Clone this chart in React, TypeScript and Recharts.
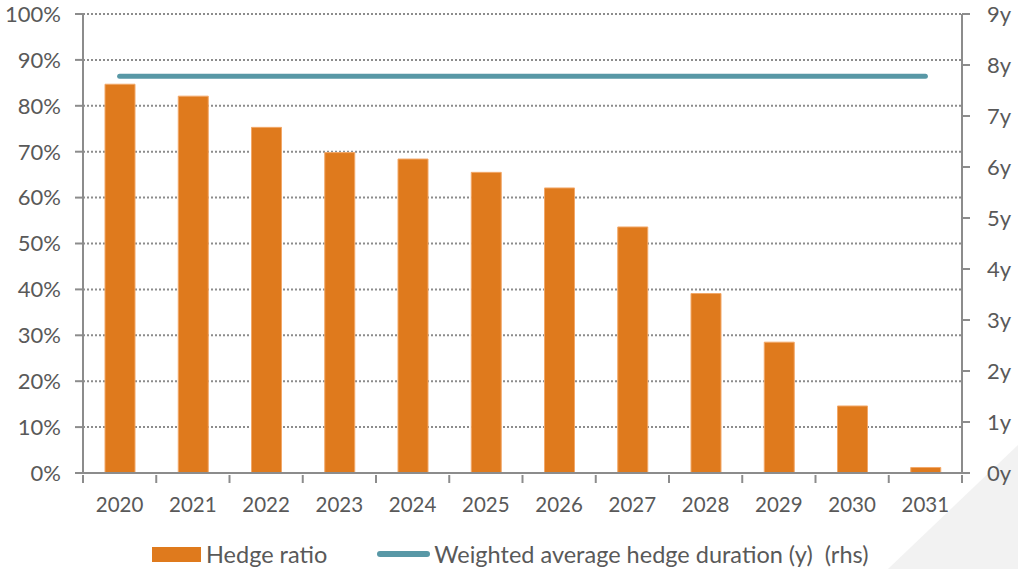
import React from "react";
import { ComposedChart, Bar, Line, XAxis, YAxis, CartesianGrid } from "recharts";

const years = ["2020", "2021", "2022", "2023", "2024", "2025", "2026", "2027", "2028", "2029", "2030", "2031"];
const hedgeRatio = [84.7, 82.1, 75.3, 69.8, 68.4, 65.5, 62.1, 53.6, 39.1, 28.5, 14.6, 1.2];
const hedgeDuration = [7.78, 7.78, 7.78, 7.78, 7.78, 7.78, 7.78, 7.78, 7.78, 7.78, 7.78, 7.78];
const leftTicks = [0, 10, 20, 30, 40, 50, 60, 70, 80, 90, 100];
const rightTicks = [0, 1, 2, 3, 4, 5, 6, 7, 8, 9];

const data = years.map((y, i) => ({ year: y, ratio: hedgeRatio[i], duration: hedgeDuration[i] }));

const W = 1018;
const H = 569;
const LEFT_W = 83;
const RIGHT_W = 56;
const FONT = "Lato, 'Open Sans', sans-serif";
const TEXT = "#595959";
const AXIS = "#8c8c8c";
const ORANGE = "#DF7A1D";
const TEAL = "#5898A6";
const band = (W - LEFT_W - RIGHT_W) / years.length;

const XTick = (props: any) => {
  const { x, y, payload, index } = props;
  const isLast = index === years.length - 1;
  return (
    <g>
      <line x1={x - band / 2} x2={x - band / 2} y1={y - 6} y2={y + 2} stroke={AXIS} strokeWidth={2} />
      {isLast && <line x1={x + band / 2} x2={x + band / 2} y1={y - 6} y2={y + 2} stroke={AXIS} strokeWidth={2} />}
      <text x={x} y={y + 16} dy="0.71em" textAnchor="middle" fill={TEXT} fontSize={20.5} fontFamily={FONT}>
        {payload.value}
      </text>
    </g>
  );
};

export default function App() {
  return (
    <div style={{ position: "absolute", left: 0, top: 0, width: W, height: H, background: "#fff", overflow: "hidden" }}>
      <svg width={W} height={H} style={{ position: "absolute", left: 0, top: 0 }}>
        <polygon points={`${W},445 ${W},${H} 888,${H}`} fill="#f2f2f2" />
      </svg>
      <div style={{ position: "absolute", left: 0, top: 0 }}>
        <ComposedChart width={W} height={H} data={data} margin={{ top: 14, right: 0, left: 0, bottom: 66 }}>
          <CartesianGrid vertical={false} stroke={AXIS} strokeWidth={2} strokeDasharray="2 2" yAxisId="left" />
          <XAxis
            dataKey="year"
            height={30}
            axisLine={{ stroke: AXIS, strokeWidth: 2 }}
            tickLine={false}
            tick={<XTick />}
            interval={0}
          />
          <YAxis
            yAxisId="left"
            orientation="left"
            width={LEFT_W}
            domain={[0, 100]}
            ticks={leftTicks}
            tickFormatter={(v: number) => `${v}%`}
            axisLine={{ stroke: AXIS, strokeWidth: 2 }}
            tickLine={{ stroke: AXIS, strokeWidth: 2 }}
            tickSize={8}
            tickMargin={14}
            tick={{ fill: TEXT, fontSize: 22, fontFamily: FONT }}
            interval={0}
          />
          <YAxis
            yAxisId="right"
            orientation="right"
            width={RIGHT_W}
            domain={[0, 9]}
            ticks={rightTicks}
            tickFormatter={(v: number) => `${v}y`}
            axisLine={{ stroke: AXIS, strokeWidth: 2 }}
            tickLine={{ stroke: AXIS, strokeWidth: 2 }}
            tickSize={8}
            tickMargin={17}
            tick={{ fill: TEXT, fontSize: 22, fontFamily: FONT }}
            interval={0}
          />
          <Bar yAxisId="left" dataKey="ratio" fill={ORANGE} stroke="#F2A869" strokeWidth={1} barSize={30} isAnimationActive={false} />
          <Line
            yAxisId="right"
            dataKey="duration"
            stroke={TEAL}
            strokeWidth={5}
            strokeLinecap="round"
            dot={false}
            activeDot={false}
            isAnimationActive={false}
          />
        </ComposedChart>
      </div>
      <div
        style={{
          position: "absolute",
          left: 152,
          top: 539,
          height: 30,
          display: "flex",
          alignItems: "center",
          fontFamily: FONT,
          fontSize: 23.5,
          color: TEXT,
          whiteSpace: "nowrap",
        }}
      >
        <span style={{ display: "inline-block", width: 49, height: 15, background: ORANGE, marginRight: 5 }} />
        <span>Hedge ratio</span>
        <span style={{ display: "inline-block", width: 53, height: 6, borderRadius: 3, background: TEAL, marginLeft: 50, marginRight: 4 }} />
        <span>Weighted average hedge duration (y)&nbsp; (rhs)</span>
      </div>
    </div>
  );
}
